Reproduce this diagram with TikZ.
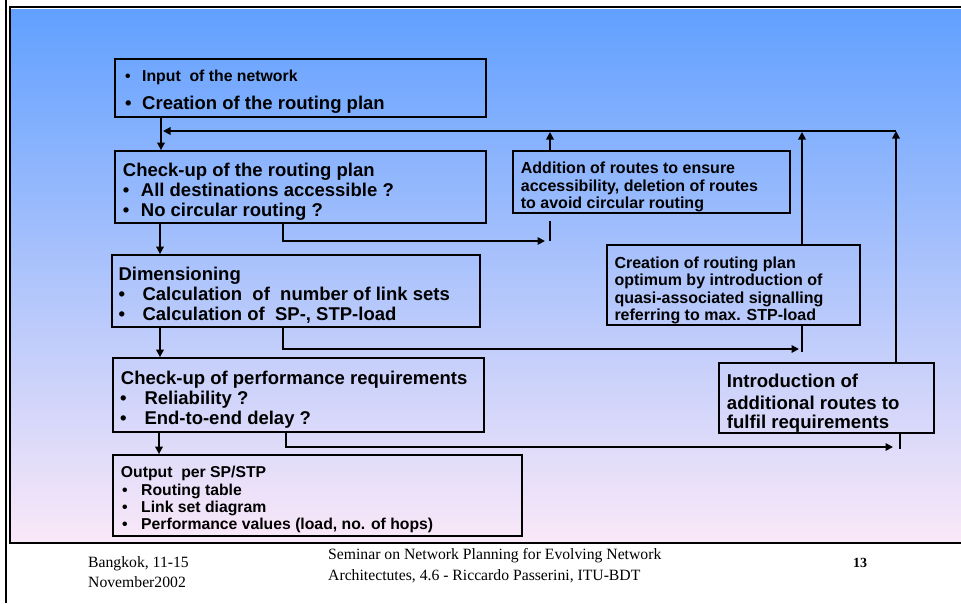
\documentclass[tikz,border=0pt]{standalone}
\usepackage{fontspec}
\newfontfamily\arialf{Liberation Sans}
\newfontfamily\serff{Liberation Serif}
\usetikzlibrary{arrows.meta}
\definecolor{gtop}{RGB}{97,160,255}
\definecolor{gmid}{RGB}{150,196,246}
\definecolor{gbot}{RGB}{250,232,248}
\tikzset{
  box/.style={draw=black, line width=1.8pt, inner sep=0pt},
  conn/.style={line width=1.7pt, draw=black},
  arr/.style={conn, -{Triangle[length=7.5pt,width=7.5pt]}},
  tx/.style={anchor=base west, inner sep=0pt, font=\arialf\bfseries\fontsize{#1}{#1}\selectfont},
  ft/.style={anchor=base west, inner sep=0pt, font=\serff\fontsize{15.7}{16}\selectfont},
}
\begin{document}
\begin{tikzpicture}[x=1pt,y=-1pt]
\useasboundingbox (0,0) rectangle (961,603);
\fill[white] (0,0) rectangle (961,603);
% panel
\shade[top color=gtop, middle color=gmid, bottom color=gbot] (11,9.5) rectangle (961,542);
\draw[line width=2pt] (9,7) -- (961,7);
\draw[line width=2pt] (10,7) -- (10,543) -- (961,543);
\draw[line width=2pt] (5.5,0) -- (5.5,603);

% boxes
\node[box, minimum width=371pt, minimum height=58pt] (b1) at (300.5,88) {};
\node[box, minimum width=371pt, minimum height=72pt] (b2) at (300.5,187) {};
\node[box, minimum width=368pt, minimum height=72pt] (b3) at (296,291) {};
\node[box, minimum width=371pt, minimum height=74pt] (b4) at (298.5,395) {};
\node[box, minimum width=409pt, minimum height=81pt] (b5) at (317.5,495.5) {};
\node[box, minimum width=277pt, minimum height=62pt] (add) at (651.5,182) {};
\node[box, minimum width=253pt, minimum height=80pt] (cre) at (733.5,285) {};
\node[box, minimum width=215pt, minimum height=70pt] (intro) at (826.5,398) {};

% texts box 1
\node[tx=15.8] (b1a) at (125,81) {•};
\node[tx=15.8] (b1b) at (142,81) {Input~ of the network};
\node[tx=18.5] (b1c) at (125,109.3) {•};
\node[tx=18.5] (b1d) at (142,109.3) {Creation of the routing plan};
% box 2
\node[tx=18.5] (b2a) at (122.7,176.7) {Check-up of the routing plan};
\node[tx=18.5] (b2b) at (122.7,196.7) {•};
\node[tx=18.5] (b2c) at (140.7,196.7) {All destinations accessible ?};
\node[tx=18.5] (b2d) at (122.7,216.7) {•};
\node[tx=18.5] (b2e) at (140.7,216.7) {No circular routing ?};
% box 3
\node[tx=18.5] (b3a) at (118.3,280.7) {Dimensioning};
\node[tx=18.5] (b3b) at (118.3,300.7) {•};
\node[tx=18.5] (b3c) at (142.3,300.7) {Calculation~ of~ number of link sets};
\node[tx=18.5] (b3d) at (118.3,320.7) {•};
\node[tx=18.5] (b3e) at (142.3,320.7) {Calculation of~ SP-, STP-load};
% box 4
\node[tx=18.5] (b4a) at (120.7,384) {Check-up of performance requirements};
\node[tx=18.5] (b4b) at (120,404.3) {•};
\node[tx=18.5] (b4c) at (144.3,404.3) {Reliability ?};
\node[tx=18.5] (b4d) at (120,424.3) {•};
\node[tx=18.5] (b4e) at (144.3,424.3) {End-to-end delay ?};
% output box
\node[tx=15.75] (b5a) at (120.7,477.3) {Output~ per SP/STP};
\node[tx=15.75] (b5b) at (122,495) {•};
\node[tx=15.75] (b5c) at (141,495) {Routing table};
\node[tx=15.75] (b5d) at (122,512.7) {•};
\node[tx=15.75] (b5e) at (141,512.7) {Link set diagram};
\node[tx=15.75] (b5f) at (122,529.3) {•};
\node[tx=15.75] (b5g) at (141,529.3) {Performance values (load, no. of hops)};
% addition box
\node[tx=16] (ad1) at (520.7,173.3) {Addition of routes to ensure};
\node[tx=16] (ad2) at (520.7,191) {accessibility, deletion of routes};
\node[tx=16] (ad3) at (520.7,208.7) {to avoid circular routing};
% creation box
\node[tx=16] (cr1) at (614.3,268.3) {Creation of routing plan};
\node[tx=16] (cr2) at (614.3,285.5) {optimum by introduction of};
\node[tx=16] (cr3) at (614.3,303.3) {quasi-associated signalling};
\node[tx=16] (cr4) at (614.3,320.7) {referring to max. STP-load};
% introduction box
\node[tx=18.6] (in1) at (726.7,387.3) {Introduction of};
\node[tx=18.6] (in2) at (726.7,409) {additional routes to};
\node[tx=18.6] (in3) at (726.7,428.3) {fulfil requirements};

% column / corner coordinates
\coordinate (x161) at (161,0);
\coordinate (x160) at (160,0);
\coordinate (x159) at (159,0);
\coordinate (fbR) at (896,131);
\coordinate (fbL) at (163,131);
\coordinate (addTop) at (550,132);
\coordinate (creTop) at (802,132);
\coordinate (k1) at (545,241);
\coordinate (k1a) at (550,221);
\coordinate (k1b) at (550,241);
\coordinate (k2) at (799,349);
\coordinate (k2b) at (802,352);
\coordinate (k3) at (893,447);
\coordinate (k3b) at (900,449);
\coordinate (x283) at (283,0);
\coordinate (x286) at (286,0);

% connectors
\draw[arr] (b1.south -| x161) -- (b2.north -| x161);
\draw[arr] (b2.south -| x160) -- (b3.north -| x160);
\draw[arr] (b3.south -| x160) -- (b4.north -| x160);
\draw[arr] (b4.south -| x159) -- (b5.north -| x159);

\draw[arr] (fbR) -- (fbL);
\draw[arr] (intro.north -| fbR) -- (fbR);
\draw[arr] (add.north -| addTop) -- (addTop);
\draw[arr] (cre.north -| creTop) -- (creTop);

\draw[arr] (b2.south -| x283) |- (k1);
\draw[conn] (k1a) -- (k1b);
\draw[arr] (b3.south -| x283) |- (k2);
\draw[conn] (cre.south -| k2b) -- (k2b);
\draw[arr] (b4.south -| x286) |- (k3);
\draw[conn] (intro.south -| k3b) -- (k3b);

% footer
\node[ft] (f1) at (88,567) {Bangkok, 11-15};
\node[ft] (f2) at (88,587) {November2002};
\node[ft] (f3) at (328,559) {Seminar on Network Planning for Evolving Network};
\node[ft] (f4) at (328,580) {Architectutes, 4.6 - Riccardo Passerini, ITU-BDT};
\node[anchor=base west, inner sep=0pt, font=\serff\bfseries\fontsize{14}{14}\selectfont] (f5) at (853,567) {13};
\end{tikzpicture}
\end{document}
